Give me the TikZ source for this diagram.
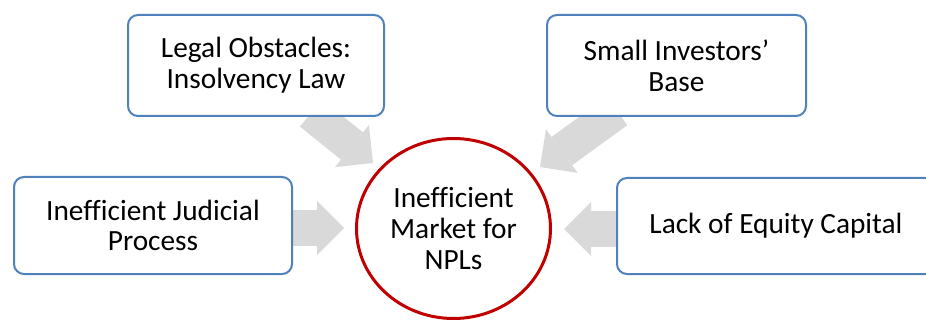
\documentclass[tikz,border=0pt]{standalone}
\usepackage{fontspec}
\setmainfont[Ligatures=NoCommon]{Carlito}
\usetikzlibrary{arrows.meta,backgrounds,shapes.geometric}
\definecolor{boxblue}{HTML}{4F81BD}
\definecolor{circred}{HTML}{C00000}
\definecolor{arrgray}{HTML}{D9D9D9}
\begin{document}
\begin{tikzpicture}[x=0.75pt,y=-0.75pt,
  txt/.style={font=\fontsize{22pt}{23pt}\selectfont, text=black},
  cause/.style={txt, draw=boxblue, line width=1.5pt, rounded corners=7.5pt, fill=white, align=center, inner sep=0pt},
  effect/.style={txt, ellipse, draw=circred, line width=2.25pt, fill=white, align=center, inner sep=0pt,
    minimum width=145.5pt, minimum height=135pt},
  fat/.style={draw=arrgray, line width=26.25pt,
    -{Triangle[length=20.25pt,width=40.5pt,line width=0pt]}}]
\clip (0,0) rectangle (926,321);
% nodes
\node[cause, minimum width=192pt, minimum height=75.75pt] (TL) at (256,65.5) {Legal Obstacles:\\Insolvency Law};
\node[cause, minimum width=194.25pt, minimum height=75.75pt] (TR) at (676.5,65.5) {Small Investors’\\Base};
\node[cause, minimum width=208.5pt, minimum height=72.75pt] (L) at (153,225.5) {Inefficient Judicial\\Process};
\node[cause, minimum width=238.5pt, minimum height=72pt] (R) at (776,226) {Lack of Equity Capital};
\node[effect] (E) at (453.5,228.5) {Inefficient\\Market for\\NPLs};
% arrow end points
\coordinate (tailTL) at (311,113);
\coordinate (tipTL) at (373,163);
\coordinate (tailTR) at (617,111);
\coordinate (tipTR) at (540,167);
\coordinate (tipL) at (344,228);
\coordinate (tipR) at (564,229);
\begin{scope}[on background layer]
\fill[white] (0,0) rectangle (926,321);
\draw[fat] (tailTL) -- (tipTL);
\draw[fat] (tailTR) -- (tipTR);
\draw[fat] (L.east |- tipL) -- (tipL);
\draw[fat] (R.west |- tipR) -- (tipR);
\end{scope}
\end{tikzpicture}
\end{document}
